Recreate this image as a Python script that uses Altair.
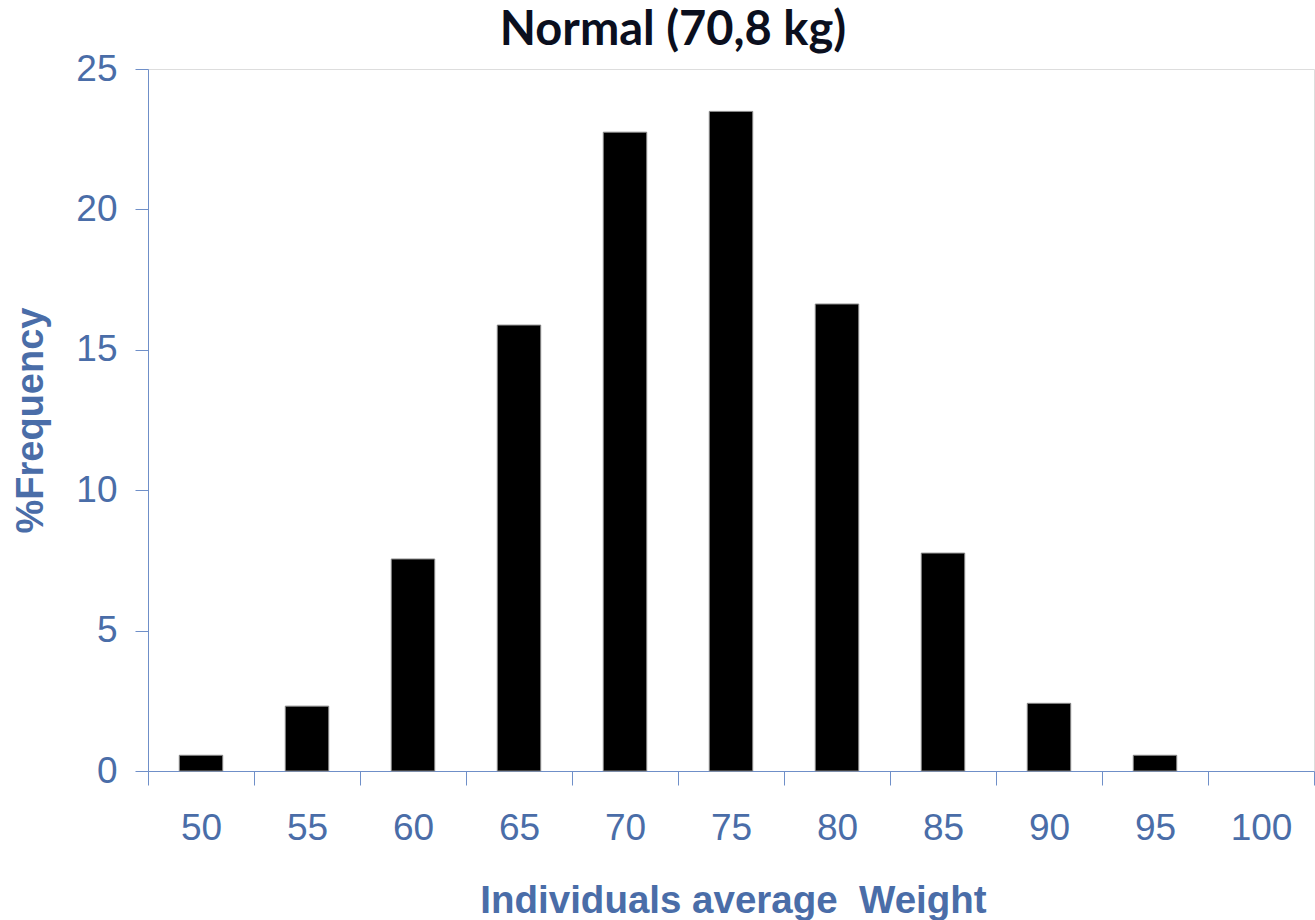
import altair as alt
import pandas as pd

# Weight classes (kg) and share of individuals in each class (%)
weights = ["50", "55", "60", "65", "70", "75", "80", "85", "90", "95", "100"]
frequency = [0.56, 2.31, 7.55, 15.88, 22.75, 23.49, 16.63, 7.76, 2.41, 0.56, 0.0]

df = pd.DataFrame({"weight": weights, "freq": frequency})

BLUE = "#4a6da8"
AXIS = "#6f8fc8"

bars = alt.Chart(df).mark_bar(
    color="black", stroke="#8a8a8a", strokeWidth=1,
    width=alt.RelativeBandSize(0.41),
).encode(
    x=alt.X(
        "weight:N",
        sort=weights,
        scale=alt.Scale(paddingInner=0, paddingOuter=0),
        axis=alt.Axis(
            title="Individuals average\u00a0\u00a0Weight",
            labelAngle=0,
            tickBand="extent",
            tickSize=14,
            labelPadding=25,
            labelFont="Liberation Sans",
            labelFontSize=37,
            labelColor=BLUE,
            domainColor=AXIS,
            tickColor=AXIS,
            titleFont="Liberation Sans",
            titleFontSize=38.5,
            titleFontWeight="bold",
            titleColor=BLUE,
            titleBaseline="alphabetic",
            titleX=585,
            titleY=141,
        ),
    ),
    y=alt.Y(
        "freq:Q",
        scale=alt.Scale(domain=[0, 25], nice=False),
        axis=alt.Axis(
            title="%Frequency",
            values=[0, 5, 10, 15, 20, 25],
            grid=False,
            tickSize=13,
            labelPadding=18,
            labelFont="Liberation Sans",
            labelFontSize=37,
            labelColor=BLUE,
            domainColor=AXIS,
            tickColor=AXIS,
            titleFont="Liberation Sans",
            titleFontSize=38,
            titleFontWeight="bold",
            titleColor=BLUE,
            titleAngle=270,
            titleAlign="center",
            titleBaseline="alphabetic",
            titleX=-106,
            titleY=351,
        ),
    ),
    strokeOpacity=alt.condition(alt.datum.freq > 0, alt.value(1), alt.value(0)),
)

chart = bars.properties(
    width=1166,
    height=702,
    title=alt.TitleParams(
        "Normal (70,8 kg)",
        font="Lato",
        fontSize=47,
        fontWeight="bold",
        color="#0b0f1e",
        anchor="middle",
        baseline="alphabetic",
        offset=-42,
        dx=-58,
    ),
    autosize=alt.AutoSizeParams(type="none"),
    padding={"left": 148, "top": 69, "right": 1, "bottom": 149},
).configure_view(stroke=None).configure(background="white")

chart.save("out.html", embed_options={"renderer": "svg", "actions": False})
